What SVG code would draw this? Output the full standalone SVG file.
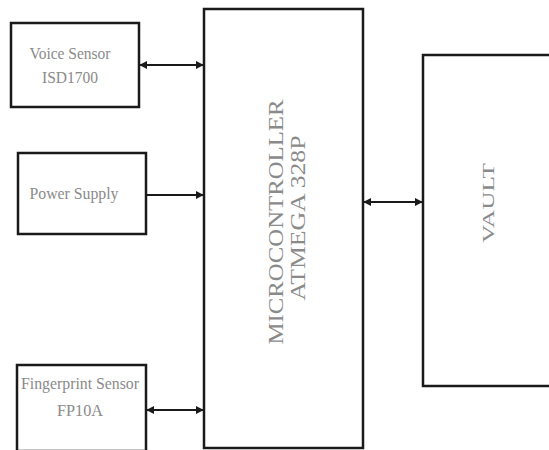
<svg xmlns="http://www.w3.org/2000/svg" width="549" height="450" viewBox="0 0 549 450">
<style>
.box{fill:#fff;stroke:#1a1a1a;stroke-width:2.5}
.t{font-family:"Liberation Serif","Times New Roman",serif;fill:#8a8a8a;text-anchor:middle}
.c{stroke:#1a1a1a;stroke-width:2;fill:none}
</style>
<defs>
<marker id="ah" viewBox="0 0 10 10" refX="9" refY="5" markerWidth="4" markerHeight="4" orient="auto-start-reverse">
<path d="M0,0 L10,5 L0,10 z" fill="#1a1a1a"/>
</marker>
</defs>
<rect width="549" height="450" fill="#fff"/>
<g id="voice">
<rect class="box" x="11" y="23" width="128" height="84"/>
<text class="t" x="70" y="59" font-size="16" textLength="81" lengthAdjust="spacingAndGlyphs">Voice Sensor</text>
<text class="t" x="70" y="83" font-size="16" textLength="56" lengthAdjust="spacingAndGlyphs">ISD1700</text>
</g>
<g id="power">
<rect class="box" x="18" y="153" width="128" height="81"/>
<text class="t" x="74" y="199" font-size="16" textLength="89" lengthAdjust="spacingAndGlyphs">Power Supply</text>
</g>
<g id="fingerprint">
<rect class="box" x="17" y="365" width="129" height="86"/>
<text class="t" x="80" y="389" font-size="16" textLength="118" lengthAdjust="spacingAndGlyphs">Fingerprint Sensor</text>
<text class="t" x="80" y="416" font-size="16" textLength="46" lengthAdjust="spacingAndGlyphs">FP10A</text>
</g>
<g id="micro">
<rect class="box" x="204" y="9" width="159" height="439"/>
<text class="t" font-size="22" transform="translate(283,222) rotate(-90)" textLength="245" lengthAdjust="spacingAndGlyphs">MICROCONTROLLER</text>
<text class="t" font-size="22" transform="translate(305,218) rotate(-90)" textLength="165" lengthAdjust="spacingAndGlyphs">ATMEGA  328P</text>
</g>
<g id="vault">
<rect class="box" x="423" y="55" width="130" height="331"/>
<text class="t" font-size="17" transform="translate(494,203) rotate(-90)" textLength="80" lengthAdjust="spacingAndGlyphs">VAULT</text>
</g>
<g id="connectors">
<line class="c" x1="140" y1="65" x2="203" y2="65" marker-start="url(#ah)" marker-end="url(#ah)"/>
<line class="c" x1="147" y1="195" x2="203" y2="195" marker-end="url(#ah)"/>
<line class="c" x1="147" y1="410" x2="203" y2="410" marker-start="url(#ah)" marker-end="url(#ah)"/>
<line class="c" x1="364" y1="202" x2="422" y2="202" marker-start="url(#ah)" marker-end="url(#ah)"/>
</g>
</svg>
